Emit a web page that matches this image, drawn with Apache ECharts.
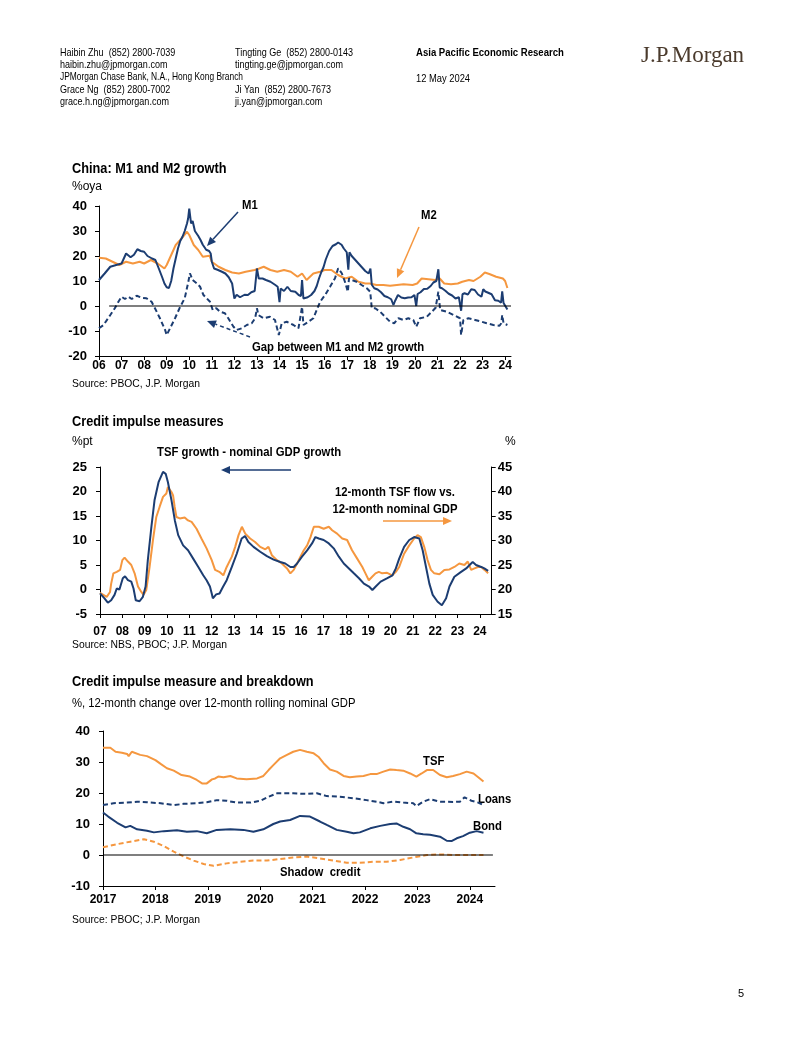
<!DOCTYPE html>
<html><head><meta charset="utf-8">
<script src="https://cdn.jsdelivr.net/npm/echarts/dist/echarts.min.js"></script>
<style>html,body{margin:0;padding:0;background:#fff}#c{width:802px;height:1037px}</style>
</head><body><div id="c"></div>
<script>
// ---------- DATA ----------
// Chart 1: China M1 and M2 growth (%oya), [year, value]
const c1Labels = ['06','07','08','09','10','11','12','13','14','15','16','17','18','19','20','21','22','23','24'];
const m1 = [[2006.0,10.4],[2006.25,13],[2006.5,15.7],[2006.8,16.5],[2007.0,17],[2007.2,21],[2007.4,19.5],[2007.55,20.5],[2007.7,22.7],[2007.85,22],[2008.0,21.7],[2008.15,20],[2008.35,19],[2008.5,18.4],[2008.65,15],[2008.8,11.5],[2008.9,9],[2009.0,7.5],[2009.1,7.2],[2009.2,10],[2009.3,15],[2009.4,19],[2009.5,23],[2009.6,26],[2009.7,27.7],[2009.8,30],[2009.9,33],[2009.95,35],[2010.0,39],[2010.08,33],[2010.15,34],[2010.25,30],[2010.4,28],[2010.5,26.4],[2010.6,24.5],[2010.75,22.5],[2010.88,22],[2010.95,21],[2011.0,17.7],[2011.1,15],[2011.25,14.5],[2011.45,13.7],[2011.6,13],[2011.75,11.5],[2011.9,9],[2012.0,3],[2012.1,4.5],[2012.25,3.5],[2012.45,4.5],[2012.6,4.4],[2012.75,5.5],[2012.9,6],[2012.95,6.5],[2013.0,15],[2013.08,11],[2013.25,11],[2013.4,10.4],[2013.6,9.7],[2013.8,8.5],[2013.92,7.7],[2014.0,1.5],[2014.05,7],[2014.2,6],[2014.35,7.7],[2014.5,6],[2014.7,5.7],[2014.85,4.4],[2014.95,4],[2015.0,10.4],[2015.06,3],[2015.25,3.5],[2015.4,4.4],[2015.55,6],[2015.65,8],[2015.75,11],[2015.85,13.5],[2015.95,15.5],[2016.05,18.6],[2016.2,22],[2016.35,24],[2016.5,24.7],[2016.6,25.4],[2016.75,24.5],[2016.85,23],[2016.98,21.5],[2017.05,14.5],[2017.1,21.5],[2017.2,20],[2017.35,18.5],[2017.5,17],[2017.65,15.5],[2017.8,14],[2017.95,13],[2018.03,15],[2018.09,8.5],[2018.2,7.1],[2018.35,6.6],[2018.5,5.5],[2018.65,4],[2018.8,3.5],[2018.95,2.7],[2019.05,0.4],[2019.12,2],[2019.25,4.4],[2019.4,3.4],[2019.55,3.1],[2019.7,3.4],[2019.85,3.5],[2019.98,4.4],[2020.06,0],[2020.12,4.8],[2020.25,5.5],[2020.4,6.8],[2020.55,6.9],[2020.7,8],[2020.82,9.4],[2020.95,10],[2021.04,14.7],[2021.1,7.4],[2021.2,7.1],[2021.35,6.1],[2021.5,4.9],[2021.65,4.2],[2021.8,3],[2021.95,3.5],[2022.05,-1.9],[2022.11,4.7],[2022.2,5.1],[2022.35,4.6],[2022.5,6.7],[2022.65,6.4],[2022.8,4.6],[2022.95,3.7],[2023.03,6.7],[2023.12,5.8],[2023.25,5.3],[2023.4,4.7],[2023.55,2.3],[2023.7,2.1],[2023.82,1.3],[2023.87,5.9],[2023.93,1.2],[2024.0,1.1],[2024.1,-1.4]];
const m2 = [[2006.0,19.3],[2006.3,19],[2006.6,17.7],[2006.9,16.4],[2007.2,17.7],[2007.5,17],[2007.8,17.7],[2008.0,17],[2008.3,18.4],[2008.6,17],[2008.9,15],[2009.0,16.4],[2009.2,20.4],[2009.4,24.4],[2009.6,26.4],[2009.9,29.7],[2010.0,28.4],[2010.2,24.4],[2010.4,22.4],[2010.6,19.7],[2010.9,20.1],[2011.0,17.7],[2011.3,15.7],[2011.6,14.4],[2011.9,13.4],[2012.2,13],[2012.5,13.7],[2012.9,14.4],[2013.1,15],[2013.3,15.7],[2013.6,14.4],[2013.9,13.7],[2014.2,14.4],[2014.5,13.7],[2014.8,11.7],[2015.0,13],[2015.2,10.4],[2015.5,13],[2015.8,13.7],[2016.0,14.4],[2016.3,14.4],[2016.6,12.4],[2016.9,11],[2017.2,11.7],[2017.5,9.7],[2017.8,9],[2018.0,9],[2018.3,8.4],[2018.6,8.4],[2018.9,8.1],[2019.2,8.4],[2019.5,8.7],[2019.9,8.4],[2020.1,9],[2020.3,11],[2020.6,10.7],[2020.9,10.4],[2021.1,11],[2021.3,9],[2021.6,8.7],[2021.9,9],[2022.1,9.7],[2022.4,10.4],[2022.6,10],[2022.9,11.7],[2023.1,13.4],[2023.3,12.8],[2023.6,11.7],[2023.9,11],[2024.0,10],[2024.1,7.2]];
const gap = [[2006.0,-8.9],[2006.2,-7.6],[2006.5,-3.6],[2006.7,-0.9],[2006.86,1.7],[2007.0,3.7],[2007.15,2.8],[2007.3,3.7],[2007.45,2.8],[2007.67,4.1],[2007.9,3.3],[2008.1,3.1],[2008.33,1.7],[2008.48,-0.9],[2008.7,-4.9],[2008.93,-9.6],[2009.0,-11.6],[2009.15,-8.9],[2009.37,-4.9],[2009.6,-0.3],[2009.8,3.1],[2009.96,9.7],[2010.03,13.1],[2010.15,10.4],[2010.33,9.1],[2010.48,7.7],[2010.63,4.4],[2010.77,3.1],[2010.92,1.7],[2011.04,-1.6],[2011.2,-0.9],[2011.36,-2.3],[2011.58,-2.9],[2011.73,-4.9],[2011.96,-8.3],[2012.1,-9.6],[2012.33,-8.9],[2012.55,-7.6],[2012.77,-6.9],[2012.92,-4.9],[2013.0,-0.9],[2013.06,-3.6],[2013.3,-4.9],[2013.58,-4.3],[2013.8,-5.6],[2013.97,-11.6],[2014.1,-6.9],[2014.32,-6.3],[2014.62,-7.6],[2014.84,-8.9],[2015.0,-0.3],[2015.06,-7.6],[2015.28,-6.3],[2015.5,-4.9],[2015.65,-1.6],[2015.8,1.7],[2016.02,4.4],[2016.24,7.7],[2016.46,11.1],[2016.6,15.1],[2016.76,13.1],[2016.9,9.7],[2017.03,5.7],[2017.08,11.1],[2017.2,10.4],[2017.42,9.7],[2017.64,8.4],[2017.87,7.1],[2018.02,5.7],[2018.09,-0.9],[2018.24,-0.9],[2018.46,-2.3],[2018.68,-4.3],[2018.9,-6.3],[2019.08,-6.9],[2019.27,-4.9],[2019.5,-5.6],[2019.71,-4.9],[2019.93,-5.6],[2020.06,-8.3],[2020.23,-4.9],[2020.53,-4.3],[2020.75,-2.3],[2020.92,-0.7],[2021.04,5.7],[2021.12,-1.6],[2021.41,-2.3],[2021.71,-3.6],[2022.0,-4.9],[2022.05,-11.6],[2022.15,-5.6],[2022.37,-4.9],[2022.67,-5.6],[2022.96,-6.3],[2023.18,-6.9],[2023.48,-7.6],[2023.75,-7.9],[2023.83,-6.9],[2023.87,-3.6],[2023.93,-6.9],[2024.1,-7.6]];
const zero1 = [[2006.45,0],[2024.26,0]];

// Chart 2: Credit impulse measures
const c2Labels = ['07','08','09','10','11','12','13','14','15','16','17','18','19','20','21','22','23','24'];
const tsfGap = [[2007.0,-0.8],[2007.2,-1.8],[2007.35,-2.7],[2007.5,-2.2],[2007.65,-1.1],[2007.75,0.2],[2007.87,0],[2008.02,2.3],[2008.12,2.7],[2008.25,1.9],[2008.4,1.6],[2008.5,0.2],[2008.6,-2.2],[2008.77,-2.4],[2008.92,-1.5],[2009.04,0.6],[2009.14,6.0],[2009.3,12.8],[2009.44,18.2],[2009.62,21.9],[2009.82,24.0],[2009.94,23.6],[2010.04,21.9],[2010.2,18.2],[2010.35,14.1],[2010.5,11.1],[2010.72,9.0],[2010.94,8.0],[2011.17,6.3],[2011.4,4.6],[2011.62,2.9],[2011.77,1.9],[2011.92,0.6],[2012.0,-0.8],[2012.05,-1.8],[2012.2,-1.0],[2012.35,-0.8],[2012.5,0.5],[2012.67,1.9],[2012.9,4.6],[2013.12,7.3],[2013.34,10.4],[2013.49,10.9],[2013.64,9.7],[2013.87,8.7],[2014.17,7.7],[2014.47,6.8],[2014.77,6.1],[2015.07,5.6],[2015.29,5.3],[2015.52,4.6],[2015.67,4.6],[2015.82,5.3],[2016.04,6.7],[2016.27,8.0],[2016.49,9.4],[2016.64,10.7],[2016.79,10.4],[2017.01,10.1],[2017.24,9.4],[2017.46,8.4],[2017.69,6.7],[2017.91,5.3],[2018.14,4.3],[2018.36,3.3],[2018.59,2.3],[2018.81,1.2],[2019.04,0.6],[2019.19,-0.1],[2019.34,0.6],[2019.56,1.6],[2019.86,2.3],[2020.09,2.9],[2020.24,4.3],[2020.39,6.3],[2020.61,8.7],[2020.84,10.1],[2021.06,10.7],[2021.29,10.4],[2021.44,8.0],[2021.59,4.6],[2021.74,1.2],[2021.89,-1.1],[2022.11,-2.5],[2022.3,-3.2],[2022.49,-1.8],[2022.64,0.6],[2022.86,2.6],[2023.16,3.6],[2023.39,4.3],[2023.54,5.0],[2023.68,5.6],[2023.83,5.0],[2024.06,4.6],[2024.2,4.3],[2024.37,3.8]];
const tsfFlow = [[2007.0,19.3],[2007.15,18.9],[2007.3,18.5],[2007.45,19.5],[2007.5,21.2],[2007.6,23.3],[2007.75,23.6],[2007.9,24.0],[2008.0,26.0],[2008.1,26.5],[2008.25,25.7],[2008.4,25.0],[2008.55,23.3],[2008.7,20.6],[2008.85,19.5],[2008.95,18.9],[2009.07,19.9],[2009.22,24.6],[2009.37,30.1],[2009.52,34.8],[2009.67,36.9],[2009.82,38.9],[2009.97,39.6],[2010.04,40.9],[2010.2,39.9],[2010.27,39.2],[2010.34,36.9],[2010.42,34.8],[2010.57,34.5],[2010.79,34.7],[2010.94,34.1],[2011.1,33.8],[2011.32,32.4],[2011.54,30.4],[2011.77,28.4],[2012.0,26.0],[2012.15,24.0],[2012.34,23.6],[2012.52,22.9],[2012.67,24.6],[2012.9,26.7],[2013.05,28.7],[2013.2,31.1],[2013.35,32.8],[2013.5,31.4],[2013.72,30.4],[2013.94,29.7],[2014.17,28.7],[2014.4,28.2],[2014.54,28.7],[2014.69,27.0],[2014.92,26.0],[2015.14,25.3],[2015.37,24.3],[2015.52,23.3],[2015.67,24.0],[2015.82,25.3],[2015.97,26.7],[2016.12,28.0],[2016.27,29.0],[2016.42,30.7],[2016.57,32.8],[2016.79,32.8],[2017.01,32.4],[2017.24,32.8],[2017.39,32.1],[2017.61,31.4],[2017.84,30.4],[2018.06,30.1],[2018.28,28.0],[2018.51,26.3],[2018.74,24.6],[2018.88,23.3],[2019.03,21.9],[2019.18,22.6],[2019.33,23.3],[2019.48,23.6],[2019.63,23.3],[2019.85,23.4],[2020.08,22.9],[2020.24,23.6],[2020.39,24.6],[2020.61,27.3],[2020.84,29.0],[2021.06,30.4],[2021.21,31.1],[2021.36,30.7],[2021.51,28.7],[2021.66,26.0],[2021.81,24.0],[2021.96,23.3],[2022.19,23.1],[2022.41,24.0],[2022.64,24.1],[2022.86,24.6],[2023.08,25.3],[2023.31,25.0],[2023.46,25.7],[2023.61,24.0],[2023.76,24.3],[2023.91,24.6],[2024.06,24.6],[2024.21,24.0],[2024.37,23.3]];

// Chart 3: Credit impulse measure and breakdown
const c3Labels = ['2017','2018','2019','2020','2021','2022','2023','2024'];
const tsf = [[2017.0,34.6],[2017.14,34.6],[2017.24,33.3],[2017.36,33.0],[2017.46,32.6],[2017.49,31.9],[2017.55,33.3],[2017.71,32.3],[2017.84,31.9],[2018.0,30.6],[2018.1,29.4],[2018.22,28.0],[2018.35,27.2],[2018.5,25.8],[2018.66,25.3],[2018.79,24.2],[2018.89,23.1],[2018.98,23.1],[2019.08,24.4],[2019.14,24.7],[2019.2,25.3],[2019.3,25.1],[2019.43,25.5],[2019.55,24.7],[2019.74,24.4],[2019.94,24.7],[2020.06,25.5],[2020.16,27.4],[2020.25,29.0],[2020.38,31.2],[2020.51,32.3],[2020.63,33.3],[2020.76,33.9],[2020.89,33.3],[2021.02,32.8],[2021.11,31.7],[2021.21,29.6],[2021.33,27.6],[2021.46,26.9],[2021.59,25.5],[2021.71,25.1],[2021.84,25.3],[2021.97,25.5],[2022.1,26.1],[2022.22,26.1],[2022.35,26.9],[2022.48,27.6],[2022.6,27.4],[2022.73,27.2],[2022.86,26.3],[2022.98,25.3],[2023.08,26.3],[2023.18,27.4],[2023.3,27.4],[2023.43,25.8],[2023.56,25.1],[2023.68,25.5],[2023.81,26.1],[2023.94,26.9],[2024.07,26.3],[2024.16,25.1],[2024.26,23.7]];
const loans = [[2017.0,16.1],[2017.2,16.7],[2017.46,16.9],[2017.65,17.2],[2017.84,17.0],[2018.1,16.7],[2018.35,16.1],[2018.54,16.5],[2018.79,16.7],[2018.98,17.0],[2019.17,17.7],[2019.36,17.5],[2019.55,16.9],[2019.81,16.9],[2020.0,17.5],[2020.16,18.8],[2020.32,19.9],[2020.63,19.9],[2020.89,19.7],[2021.08,19.9],[2021.27,19.0],[2021.52,18.8],[2021.78,18.3],[2022.03,17.7],[2022.22,17.2],[2022.35,16.7],[2022.54,17.2],[2022.73,16.9],[2022.92,16.7],[2022.98,15.8],[2023.11,17.2],[2023.24,18.0],[2023.43,17.2],[2023.68,17.1],[2023.81,17.2],[2023.9,18.6],[2024.03,17.5],[2024.16,16.9],[2024.26,16.1]];
const bond = [[2017.0,13.7],[2017.1,12.4],[2017.27,10.4],[2017.43,8.9],[2017.52,9.4],[2017.65,8.3],[2017.84,7.8],[2017.97,7.3],[2018.16,7.7],[2018.41,8.0],[2018.6,7.5],[2018.79,7.7],[2018.98,7.0],[2019.17,8.1],[2019.43,8.3],[2019.68,8.1],[2019.87,7.5],[2020.06,8.3],[2020.25,10.0],[2020.38,10.8],[2020.57,11.3],[2020.76,12.6],[2020.95,12.4],[2021.14,10.8],[2021.27,9.7],[2021.46,8.1],[2021.65,7.5],[2021.78,7.0],[2021.9,7.3],[2022.1,8.6],[2022.29,9.4],[2022.48,10.0],[2022.6,10.2],[2022.73,9.1],[2022.86,8.3],[2022.98,7.0],[2023.11,6.7],[2023.24,6.5],[2023.43,5.9],[2023.56,4.6],[2023.65,4.5],[2023.75,5.4],[2023.87,6.1],[2024.0,7.2],[2024.13,7.7],[2024.26,7.2]];
const shadow = [[2017.0,2.5],[2017.27,3.5],[2017.52,4.3],[2017.78,5.1],[2017.97,4.3],[2018.16,2.9],[2018.35,1.1],[2018.54,-0.5],[2018.73,-1.8],[2018.92,-2.9],[2019.11,-3.5],[2019.36,-2.7],[2019.62,-2.2],[2019.87,-1.8],[2020.13,-1.8],[2020.38,-1.3],[2020.63,-0.8],[2020.89,-0.5],[2021.14,-1.1],[2021.4,-1.8],[2021.65,-2.5],[2021.9,-2.5],[2022.16,-2.2],[2022.41,-2.2],[2022.67,-1.6],[2022.92,-0.8],[2023.18,0],[2023.43,0.2],[2023.68,0],[2023.94,0],[2024.26,0]];
const zero3 = [[2017.0,0],[2024.44,0]];

// ---------- STYLE ----------
const NAVY = '#1c3d72', ORANGE = '#f5973f';
const FONT = "'Liberation Sans',Arial,sans-serif";
const AX = {color:'#000', width:1};

function xAx(gi, min, max, labels, start, margin, fs){
  return {type:'value', gridIndex:gi, min, max, interval:1,
    axisLine:{show:true,onZero:false,lineStyle:AX},
    axisTick:{show:true,length:4,lineStyle:AX},
    splitLine:{show:false},
    axisLabel:{margin, color:'#000', fontWeight:'bold', fontSize:fs, fontFamily:FONT, showMaxLabel:false,
      formatter:v=>{const r=Math.round(v); return Math.abs(v-r)<1e-6 && labels[r-start]!==undefined ? labels[r-start] : '';}}};
}
function yAx(gi, min, max, interval, pos, margin){
  return {type:'value', gridIndex:gi, min, max, interval, position:pos,
    axisLine:{show:true,onZero:false,lineStyle:AX},
    axisTick:{show:true,length:4,lineStyle:AX},
    splitLine:{show:false},
    axisLabel:{margin, color:'#000', fontWeight:'bold', fontSize:13, fontFamily:FONT}};
}
function line(name, data, xi, yi, color, dashed, w){
  return {name, type:'line', data, xAxisIndex:xi, yAxisIndex:yi, showSymbol:false, symbol:'none', animation:false,
    lineStyle:{color, width:w||2, type: dashed ? [5,3] : 'solid'}, z: 3};
}
function txtEl(x, y, s, o){
  o = o || {};
  return {type:'text', x:x, y:y, scaleX:o.sx||1, originX:0, originY:0, silent:true, style:{text:s, fill:o.color||'#000',
    font:(o.bold?'bold ':'')+(o.size||11)+'px '+(o.family||FONT), textAlign:o.align||'left', textVerticalAlign:'middle'}};
}
function arrow(x1,y1,x2,y2,color,dashed){
  const a = Math.atan2(y2-y1, x2-x1), L=9, W=4;
  const bx = x2 - L*Math.cos(a), by = y2 - L*Math.sin(a);
  const px = -Math.sin(a)*W, py = Math.cos(a)*W;
  return [
    {type:'line', silent:true, shape:{x1,y1,x2:bx,y2:by}, style:{stroke:color, lineWidth:1.5, lineDash: dashed?[4,3]:null}},
    {type:'polygon', silent:true, shape:{points:[[x2,y2],[bx+px,by+py],[bx-px,by-py]]}, style:{fill:color}}
  ];
}
const H = {size:11, sx:0.82};
const T = {size:15, bold:true, sx:0.85};
const A = {size:13, bold:true, sx:0.87};
const S = {size:11, sx:0.94};

const graphics = [
  // header
  txtEl(60,53,'Haibin Zhu  (852) 2800-7039',H),
  txtEl(60,65,'haibin.zhu@jpmorgan.com',H),
  txtEl(60,77,'JPMorgan Chase Bank, N.A., Hong Kong Branch',{size:10.5,sx:0.8}),
  txtEl(60,90,'Grace Ng  (852) 2800-7002',H),
  txtEl(60,102,'grace.h.ng@jpmorgan.com',H),
  txtEl(235,53,'Tingting Ge  (852) 2800-0143',H),
  txtEl(235,65,'tingting.ge@jpmorgan.com',H),
  txtEl(235,90,'Ji Yan  (852) 2800-7673',H),
  txtEl(235,102,'ji.yan@jpmorgan.com',H),
  txtEl(416,53,'Asia Pacific Economic Research',{size:11,bold:true,sx:0.87}),
  txtEl(416,79,'12 May 2024',{size:11,sx:0.85}),
  txtEl(641,56,'J.P.Morgan',{size:23,family:"'Liberation Serif','DejaVu Serif',serif",color:'#4a3a2c'}),
  // chart 1
  txtEl(72,169,'China: M1 and M2 growth',T),
  txtEl(72,187,'%oya',{size:12}),
  txtEl(242,205,'M1',A),
  txtEl(421,215,'M2',A),
  txtEl(252,347,'Gap between M1 and M2 growth',A),
  txtEl(72,384,'Source: PBOC, J.P. Morgan',S),
  ...arrow(238,212,207,246,NAVY,false),
  ...arrow(419,227,397,278,ORANGE,false),
  ...arrow(250,337,207,321,NAVY,true),
  // chart 2
  txtEl(72,422,'Credit impulse measures',T),
  txtEl(72,442,'%pt',{size:12}),
  txtEl(505,442,'%',{size:12}),
  txtEl(157,452,'TSF growth - nominal GDP growth',A),
  ...arrow(291,470,221,470,NAVY,false),
  txtEl(395,492,'12-month TSF flow vs.',Object.assign({align:'center'},A)),
  txtEl(395,509,'12-month nominal GDP',Object.assign({align:'center'},A)),
  ...arrow(383,521,452,521,ORANGE,false),
  txtEl(72,645,'Source: NBS, PBOC; J.P. Morgan',S),
  // chart 3
  txtEl(72,682,'Credit impulse measure and breakdown',T),
  txtEl(72,704,'%, 12-month change over 12-month rolling nominal GDP',{size:12,sx:0.94}),
  txtEl(423,761,'TSF',A),
  txtEl(478,799,'Loans',A),
  txtEl(473,826,'Bond',A),
  txtEl(280,872,'Shadow  credit',A),
  txtEl(72,920,'Source: PBOC; J.P. Morgan',S),
  // page number
  txtEl(738,994,'5',{size:11})
];

const option = {
  backgroundColor:'#fff',
  animation:false,
  grid:[
    {left:99, top:206, width:412, height:150},
    {left:100, top:467, width:391.7, height:147},
    {left:103, top:731, width:392, height:155}
  ],
  xAxis:[
    xAx(0, 2006, 2024.26, c1Labels, 2006, 4, 12),
    xAx(1, 2007, 2024.53, c2Labels, 2007, 12, 12),
    xAx(2, 2017, 2024.48, c3Labels, 2017, 8, 12)
  ],
  yAxis:[
    yAx(0, -20, 40, 10, 'left', 12),
    yAx(1, -5, 25, 5, 'left', 13),
    yAx(1, 15, 45, 5, 'right', 6),
    yAx(2, -10, 40, 10, 'left', 13)
  ],
  series:[
    line('M2', m2, 0, 0, ORANGE, false),
    line('M1', m1, 0, 0, NAVY, false),
    line('Gap', gap, 0, 0, NAVY, true),
    Object.assign(line('zero1', zero1, 0, 0, '#000', false, 1.2), {z:4}),
    line('12-month TSF flow vs. 12-month nominal GDP', tsfFlow, 1, 2, ORANGE, false),
    line('TSF growth - nominal GDP growth', tsfGap, 1, 1, NAVY, false),
    line('TSF', tsf, 2, 3, ORANGE, false),
    line('Loans', loans, 2, 3, NAVY, true),
    line('Bond', bond, 2, 3, NAVY, false),
    line('Shadow credit', shadow, 2, 3, ORANGE, true),
    Object.assign(line('zero3', zero3, 2, 3, '#000', false, 1.2), {z:4})
  ],
  graphic: graphics
};
const chart = echarts.init(document.getElementById('c'), null, {renderer:'canvas'});
chart.setOption(option);
</script></body></html>
